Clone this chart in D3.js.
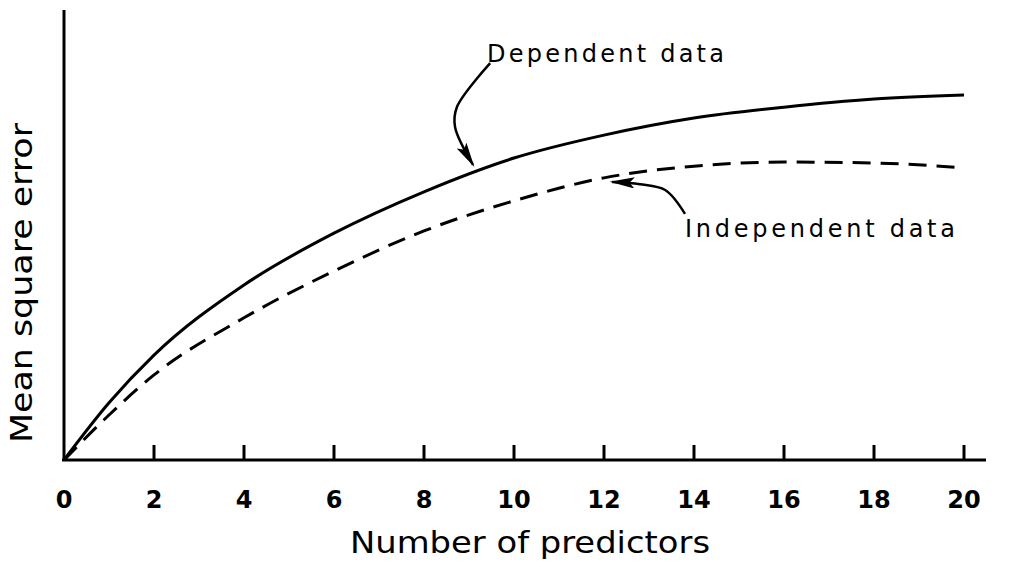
<!DOCTYPE html>
<html>
<head>
<meta charset="utf-8">
<script src="https://cdn.jsdelivr.net/npm/d3@7"></script>
<style>
	body { margin: 0; background: #fff; }
	text { fill: #000; font-family: "DejaVu Sans", sans-serif; }
</style>
</head>
<body>
<svg width="1012" height="568"></svg>
<script>
/*
Data
*/

var predictors = [0, 1, 2, 4, 6, 8, 10, 12, 14, 16, 18, 20];
var dependentData = [0, 12.7, 23.3, 38.9, 50.4, 59.6, 67.1, 72.2, 76.0, 78.4, 80.2, 81.1];
var independentData = [0, 10.0, 18.9, 31.6, 42.0, 50.9, 57.6, 62.7, 65.3, 66.2, 66.0, 64.9];

var xTicks = [0, 2, 4, 6, 8, 10, 12, 14, 16, 18, 20];

const xLabel = 'Number of predictors';
const yLabel = 'Mean square error';
const dependentLabel = 'Dependent data';
const independentLabel = 'Independent data';

// annotation arrows, in data units
var dependentArrow = [[9.47, 88.2], [8.73, 78.4], [8.69, 74.0], [9.09, 65.6]];
var independentArrow = [[13.8, 54.7], [13.36, 60.0], [12.8, 61.3], [12.18, 61.8]];

/*
Set up SVG
*/

var svg = d3.select('svg'),
	width = + svg.attr('width'),
	height = + svg.attr('height');

var x = d3.scaleLinear().domain([0, 20]).range([64, 964]);
var y = d3.scaleLinear().domain([0, 100]).range([460, 10]);

svg.append('defs').append('marker')
	.attr('id', 'head')
	.attr('viewBox', '0 0 10 10')
	.attr('refX', 9)
	.attr('refY', 5)
	.attr('markerWidth', 10)
	.attr('markerHeight', 4.5)
	.attr('markerUnits', 'strokeWidth')
	.attr('orient', 'auto')
	.attr('preserveAspectRatio', 'none')
	.append('path')
		.attr('d', 'M0,0 L10,5 L0,10 L2,5 Z')
		.attr('fill', '#000');

/*
Axes
*/

svg.append('line')
	.attr('x1', x(0)).attr('y1', y(0))
	.attr('x2', x(0)).attr('y2', y(100))
	.attr('stroke', '#000').attr('stroke-width', 3);

svg.append('line')
	.attr('x1', x(0) - 2).attr('y1', y(0))
	.attr('x2', x(20) + 22).attr('y2', y(0))
	.attr('stroke', '#000').attr('stroke-width', 3);

var ticks = svg.append('g').attr('class', 'ticks');
ticks.selectAll('line')
	.data(xTicks.filter(function(d){ return d > 0; }))
	.enter().append('line')
		.attr('x1', function(d){ return x(d); })
		.attr('x2', function(d){ return x(d); })
		.attr('y1', y(0))
		.attr('y2', y(0) - 15)
		.attr('stroke', '#000')
		.attr('stroke-width', 3);

ticks.selectAll('text')
	.data(xTicks)
	.enter().append('text')
		.attr('x', function(d){ return x(d); })
		.attr('y', 508)
		.attr('text-anchor', 'middle')
		.attr('font-size', 24)
		.attr('font-weight', 'bold')
		.text(function(d){ return d; });

svg.append('text')
	.attr('x', 350)
	.attr('y', 553)
	.attr('font-size', 30)
	.attr('textLength', 360)
	.attr('lengthAdjust', 'spacingAndGlyphs')
	.text(xLabel);

svg.append('text')
	.attr('transform', 'translate(32,443) rotate(-90)')
	.attr('font-size', 30)
	.attr('textLength', 320)
	.attr('lengthAdjust', 'spacingAndGlyphs')
	.text(yLabel);

/*
Curves
*/

var line = d3.line()
	.x(function(d){ return x(d[0]); })
	.y(function(d){ return y(d[1]); })
	.curve(d3.curveMonotoneX);

svg.append('path')
	.datum(predictors.map(function(p, i){ return [p, dependentData[i]]; }))
	.attr('d', line)
	.attr('fill', 'none')
	.attr('stroke', '#000')
	.attr('stroke-width', 3);

svg.append('path')
	.datum(predictors.map(function(p, i){ return [p, independentData[i]]; }))
	.attr('d', line)
	.attr('fill', 'none')
	.attr('stroke', '#000')
	.attr('stroke-width', 3)
	.attr('stroke-dasharray', '18,10');

/*
Annotations
*/

var arrowLine = d3.line()
	.x(function(d){ return x(d[0]); })
	.y(function(d){ return y(d[1]); })
	.curve(d3.curveCatmullRom);

[dependentArrow, independentArrow].forEach(function(pts){
	svg.append('path')
		.datum(pts)
		.attr('d', arrowLine)
		.attr('fill', 'none')
		.attr('stroke', '#000')
		.attr('stroke-width', 2.5)
		.attr('marker-end', 'url(#head)');
});

svg.append('text')
	.attr('x', x(9.4))
	.attr('y', y(88.4))
	.attr('font-size', 24)
	.attr('textLength', 237)
	.attr('lengthAdjust', 'spacing')
	.text(dependentLabel);

svg.append('text')
	.attr('x', x(13.8))
	.attr('y', y(49.6))
	.attr('font-size', 24)
	.attr('textLength', 270)
	.attr('lengthAdjust', 'spacing')
	.text(independentLabel);
</script>
</body>
</html>
